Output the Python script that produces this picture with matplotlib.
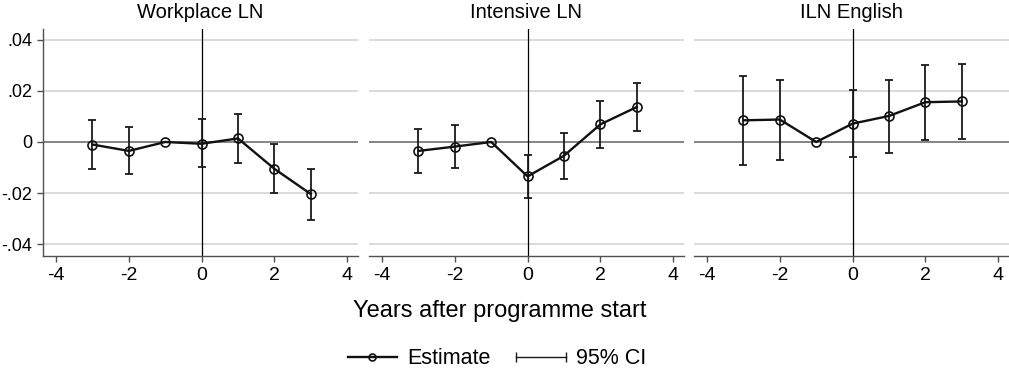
import numpy as np
import matplotlib.pyplot as plt
from matplotlib.lines import Line2D
from matplotlib.legend_handler import HandlerLine2D

plt.rcParams['font.family'] = ['Liberation Sans', 'DejaVu Sans']

## DATA

years = [-3, -2, -1, 0, 1, 2, 3]
titles = ['Workplace LN', 'Intensive LN', 'ILN English']

wp_est = [-0.0010, -0.0035, 0.0, -0.0007, 0.0014, -0.0105, -0.0204]
wp_hi = [0.0085, 0.0059, 0.0, 0.0089, 0.0110, -0.0007, -0.0106]
wp_lo = [-0.0105, -0.0125, 0.0, -0.0099, -0.0084, -0.0200, -0.0305]

in_est = [-0.0035, -0.0018, 0.0, -0.0135, -0.0054, 0.0069, 0.0137]
in_hi = [0.0051, 0.0065, 0.0, -0.0050, 0.0037, 0.0162, 0.0230]
in_lo = [-0.0122, -0.0102, 0.0, -0.0220, -0.0145, -0.0022, 0.0044]

en_est = [0.0085, 0.0088, 0.0, 0.0072, 0.0102, 0.0156, 0.0159]
en_hi = [0.0259, 0.0242, 0.0, 0.0205, 0.0244, 0.0303, 0.0307]
en_lo = [-0.0090, -0.0072, 0.0, -0.0060, -0.0042, 0.0007, 0.0013]

panels = [(wp_est, wp_lo, wp_hi), (in_est, in_lo, in_hi), (en_est, en_lo, en_hi)]

yticks = [-0.04, -0.02, 0, 0.02, 0.04]
ytick_labels = ['-.04', '-.02', '0', '.02', '.04']
xticks = [-4, -2, 0, 2, 4]

## PLOT

fig = plt.figure(figsize=(10.09, 3.72), dpi=100)
W, H = 1009, 372
lefts = [43, 369, 694]
width = 315
top, bottom = 29, 256

spine_col = '#505050'
for i, (est, lo, hi) in enumerate(panels):
    ax = fig.add_axes([lefts[i] / W, 1 - bottom / H, width / W, (bottom - top) / H])
    x = np.array(years)
    est = np.array(est)
    lo = np.array(lo)
    hi = np.array(hi)

    # grid + zero line + reference at 0
    for yv in yticks:
        if yv == 0:
            ax.axhline(yv, color='#707070', lw=1.2, zorder=1)
        else:
            ax.axhline(yv, color='#d4d4d4', lw=1.2, zorder=1)
    ax.axvline(0, color='black', lw=0.9, zorder=2)

    # CI (skip the reference year with no interval)
    m = hi != lo
    ax.errorbar(x[m], est[m], yerr=[est[m] - lo[m], hi[m] - est[m]], fmt='none',
                ecolor='#1a1a1a', elinewidth=1.3, capsize=3, capthick=1.3, zorder=3)
    ax.plot(x, est, color='#111111', lw=1.7, marker='o', ms=6.5,
            mfc='none', mec='#111111', mew=1.2, zorder=4)

    ax.set_xlim(-4.36, 4.30)
    ax.set_ylim(-0.0447, 0.0443)
    ax.set_xticks(xticks)
    ax.set_xticklabels([str(t) for t in xticks])
    ax.set_yticks(yticks)
    ax.set_title(titles[i], fontsize=14.5, pad=8)

    for s in ['top', 'right']:
        ax.spines[s].set_visible(False)
    ax.spines['bottom'].set_color(spine_col)
    ax.spines['bottom'].set_linewidth(1.0)
    ax.tick_params(axis='x', colors=spine_col, labelcolor='black', labelsize=14,
                   length=4.5, width=1.0, pad=3.5)
    if i == 0:
        ax.spines['left'].set_color(spine_col)
        ax.spines['left'].set_linewidth(1.0)
        ax.set_yticklabels(ytick_labels)
        ax.tick_params(axis='y', colors=spine_col, labelcolor='black', labelsize=13,
                       length=4.5, width=1.0, pad=3.5)
    else:
        ax.spines['left'].set_visible(False)
        ax.tick_params(axis='y', left=False, labelleft=False)

fig.text(500 / W, 1 - 311 / H, 'Years after programme start', ha='center', va='center',
         fontsize=17)

# legend
est_handle = Line2D([], [], color='#111111', lw=1.7, marker='o', ms=5,
                    mfc='none', mec='#111111', mew=1.2)
ci_handle = Line2D([], [], color='#1a1a1a', lw=1.0, marker='|', ms=7, mew=1.0)
fig.legend([est_handle, ci_handle], ['Estimate', '95% CI'], loc='center',
           bbox_to_anchor=(497 / W, 1 - 359 / H), ncol=2, frameon=False, fontsize=15.5,
           handlelength=2.3, columnspacing=1.2, handletextpad=0.47,
           handler_map={est_handle: HandlerLine2D(numpoints=1),
                        ci_handle: HandlerLine2D(numpoints=2, marker_pad=0)})

fig.savefig('out.png', dpi=100)
